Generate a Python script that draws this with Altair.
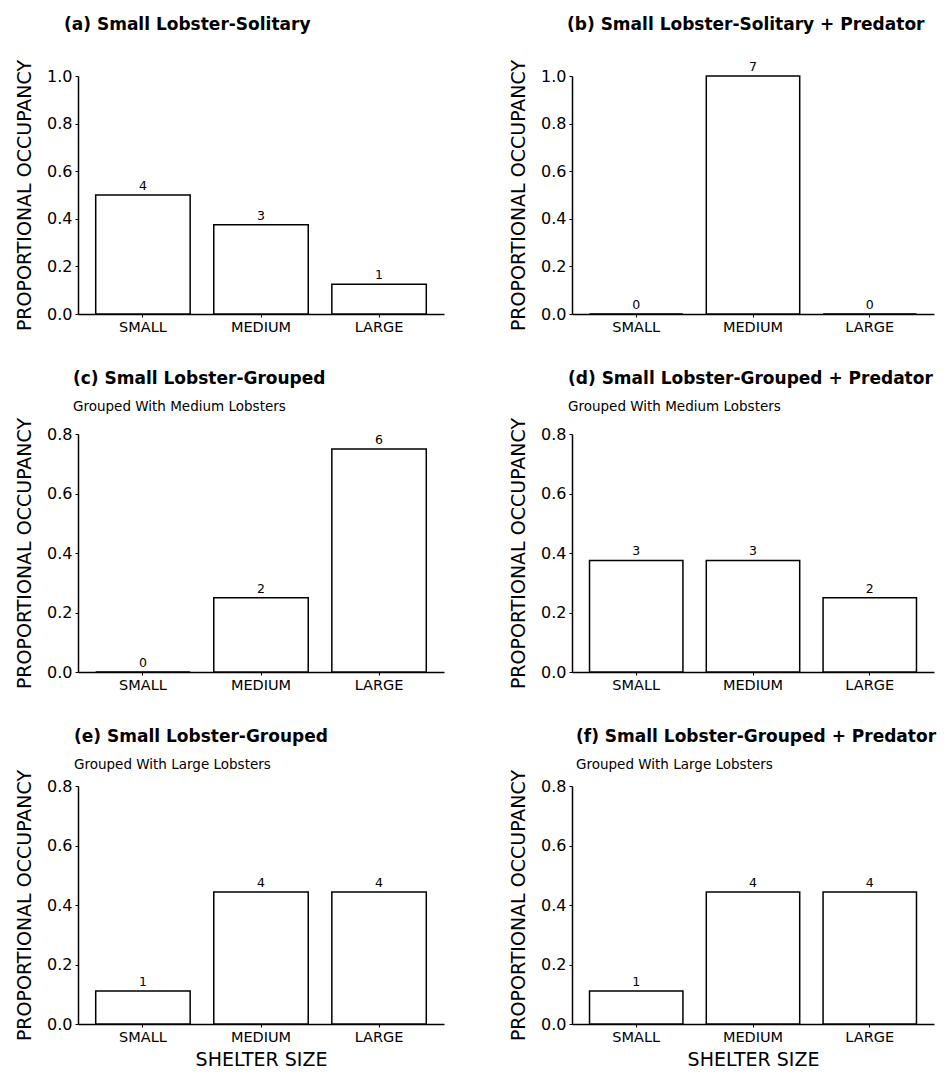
import altair as alt
import pandas as pd

categories = ["SMALL", "MEDIUM", "LARGE"]

panel_titles = [
    "(a) Small Lobster-Solitary",
    "(b) Small Lobster-Solitary + Predator",
    "(c) Small Lobster-Grouped",
    "(d) Small Lobster-Grouped + Predator",
    "(e) Small Lobster-Grouped",
    "(f) Small Lobster-Grouped + Predator",
]
panel_subtitles = [
    "",
    "",
    "Grouped With Medium Lobsters",
    "Grouped With Medium Lobsters",
    "Grouped With Large Lobsters",
    "Grouped With Large Lobsters",
]
proportions = [
    [0.5, 0.375, 0.125],
    [0.0, 1.0, 0.0],
    [0.0, 0.25, 0.75],
    [0.375, 0.375, 0.25],
    [0.111, 0.444, 0.444],
    [0.111, 0.444, 0.444],
]
counts = [
    [4, 3, 1],
    [0, 7, 0],
    [0, 2, 6],
    [3, 3, 2],
    [1, 4, 4],
    [1, 4, 4],
]
y_max = [1.0, 1.0, 0.8, 0.8, 0.8, 0.8]
y_ticks_full = [0.0, 0.2, 0.4, 0.6, 0.8, 1.0]
y_ticks_short = [0.0, 0.2, 0.4, 0.6, 0.8]
x_axis_title = "SHELTER SIZE"
y_axis_title = "PROPORTIONAL OCCUPANCY"

FONT = "DejaVu Sans"
title_dx = [-14, -5, -5, -4, -4, 4]
title_offset = [25, 25, 3, 3, -3, -3]
panel_width = [366, 362, 366, 362, 366, 362]


def panel(i):
    df = pd.DataFrame({"shelter": categories, "prop": proportions[i], "n": counts[i]})
    bottom = i >= 4
    ticks = y_ticks_full if y_max[i] == 1.0 else y_ticks_short
    x = alt.X(
        "shelter:N",
        sort=categories,
        scale=alt.Scale(paddingInner=0.2, paddingOuter=0.15),
        axis=alt.Axis(
            title=x_axis_title if bottom else None,
            labelAngle=0,
            labelFontSize=14.5,
            labelFont=FONT,
            labelColor="black",
            labelPadding=3,
            tickSize=3,
            tickColor="black",
            domainColor="black",
            domainWidth=1.5,
            titleFont=FONT,
            titleFontSize=19,
            titleFontWeight="normal",
            titleColor="black",
            titlePadding=7,
        ),
    )
    y = alt.Y(
        "prop:Q",
        scale=alt.Scale(domain=[0, y_max[i]], nice=False),
        axis=alt.Axis(
            title=y_axis_title,
            values=ticks,
            format=".1f",
            grid=False,
            labelFontSize=16,
            labelFont=FONT,
            labelColor="black",
            labelPadding=3,
            tickSize=3,
            tickColor="black",
            domainColor="black",
            domainWidth=1.5,
            titleFont=FONT,
            titleFontSize=19,
            titleFontWeight="normal",
            titleColor="black",
            titlePadding=12,
        ),
    )
    base = alt.Chart(df)
    bars = base.mark_bar(fill="white", stroke="black", strokeWidth=1.5).encode(x=x, y=y)
    text = base.mark_text(dy=-9, fontSize=12.5, font=FONT, color="black").encode(
        x=x, y=y, text="n:Q"
    )
    params = dict(
        text=panel_titles[i],
        anchor="start",
        frame="group",
        dx=title_dx[i],
        font=FONT,
        fontSize=17,
        fontWeight="bold",
        color="black",
        offset=title_offset[i],
    )
    if panel_subtitles[i]:
        params.update(
            subtitle=panel_subtitles[i],
            subtitleFont=FONT,
            subtitleFontSize=13.5,
            subtitleColor="black",
            subtitlePadding=12,
        )
    return (bars + text).properties(
        width=panel_width[i], height=238, title=alt.TitleParams(**params)
    )


rows = []
for r in range(3):
    rows.append(alt.hconcat(panel(2 * r), panel(2 * r + 1), spacing=65))

chart = (
    alt.vconcat(*rows, spacing=35)
    .properties(background="white", padding={"left": 7, "top": 8, "right": 0, "bottom": 0})
    .configure_view(strokeWidth=0)
)

chart.save("out.html", embed_options={"renderer": "svg", "actions": False})
